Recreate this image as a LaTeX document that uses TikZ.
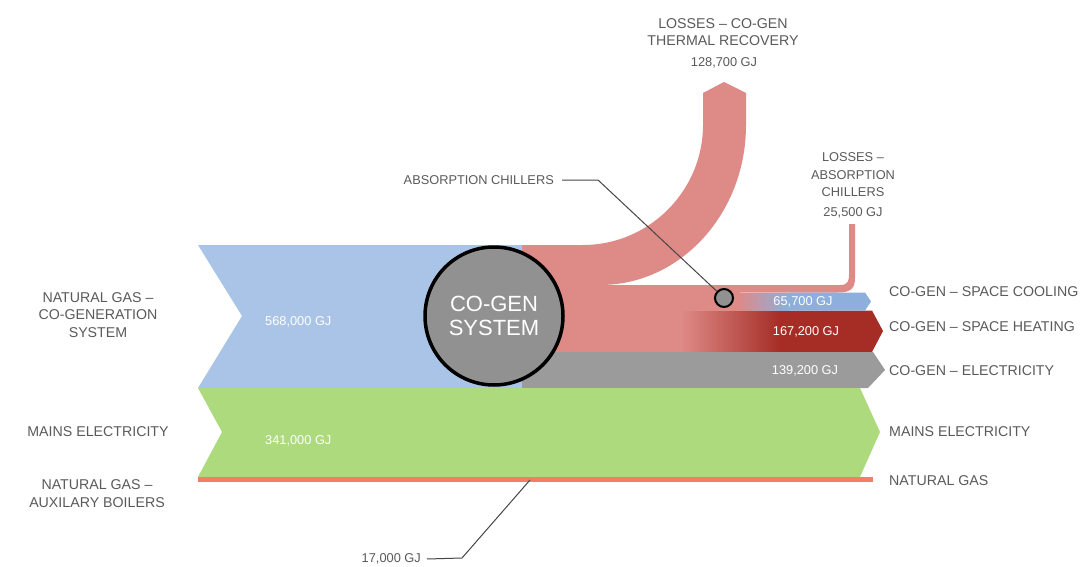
\documentclass[tikz,border=0pt]{standalone}
\usepackage{fontspec}
\setmainfont{Liberation Sans}
\definecolor{ngblue}{RGB}{170,196,232}
\definecolor{lossred}{RGB}{222,138,135}
\definecolor{heatred}{RGB}{165,45,38}
\definecolor{coolblue}{RGB}{140,175,220}
\definecolor{elecgray}{RGB}{155,155,155}
\definecolor{circgray}{RGB}{145,145,145}
\definecolor{mainsgreen}{RGB}{172,218,125}
\definecolor{gasorange}{RGB}{240,128,96}
\definecolor{txtgray}{RGB}{90,90,90}
\definecolor{leadgray}{RGB}{70,70,70}
\begin{document}
\begin{tikzpicture}[x=1pt,y=-1pt,
  lbl/.style={text=txtgray, font=\fontsize{14.2}{17.5}\selectfont, inner sep=0pt, align=center},
  smlbl/.style={text=txtgray, font=\fontsize{12.8}{17.5}\selectfont, inner sep=0pt, align=center},
  gjlbl/.style={text=txtgray, font=\fontsize{12.8}{15}\selectfont, inner sep=0pt},
  val/.style={text=white, font=\fontsize{12.8}{15}\selectfont, inner sep=0pt},
  lead/.style={draw=leadgray, line width=1pt}]
\useasboundingbox (0,0) rectangle (1081,567);
\fill[white] (0,0) rectangle (1081,567);

% natural gas into the co-generation system
\fill[ngblue] (198,245) -- (523,245) -- (523,388) -- (198,388) -- (242,316) -- cycle;

% thermal recovery losses and absorption chiller losses
\fill[lossred] (522,245) -- (583,245) .. controls (649,245) and (703,191) .. (703,125)
  -- (703,93) -- (724,82) -- (746,93) -- (746,125)
  .. controls (746,213) and (681,285) .. (600,285) -- (840,285)
  .. controls (848,285) and (849,281) .. (849,274) -- (849,224) -- (855,224) -- (855,278)
  .. controls (855,289) and (850,292.5) .. (838,292.5) -- (740,292.5) -- (740,352) -- (522,352) -- cycle;

% space heating: blend from the loss colour into the heating colour
\foreach \i in {0,...,49}{
  \pgfmathtruncatemacro\p{100-2*\i}
  \fill[lossred!\p!heatred] ({680+2*\i},310.5) rectangle ({682.6+2*\i},352);
}
\fill[heatred] (780,310.5) -- (872,310.5) -- (883,331) -- (872,352) -- (780,352) -- cycle;

% space cooling: blend from the loss colour into the cooling colour
\foreach \i in {0,...,25}{
  \pgfmathtruncatemacro\p{100-4*\i}
  \fill[lossred!\p!coolblue] ({738+2*\i},292.5) rectangle ({740.6+2*\i},310.5);
}
\fill[coolblue] (790,292.5) -- (865,292.5) -- (871,301.5) -- (865,310.5) -- (790,310.5) -- cycle;

% co-gen electricity
\fill[elecgray] (522,352) -- (873,352) -- (885,370) -- (868,388) -- (522,388) -- cycle;

% mains electricity
\fill[mainsgreen] (198,388) -- (860,388) -- (880,432) -- (860,477) -- (198,477) -- (222,432) -- cycle;

% natural gas for the auxiliary boilers
\fill[gasorange] (198,477) rectangle (873,482);

% system nodes
\node[circle, draw=black, line width=3.5pt, fill=circgray, minimum size=138pt, inner sep=0pt,
  text=white, align=center, font=\fontsize{22}{24.5}\selectfont] (cogen) at (494,316) {CO-GEN\\SYSTEM};
\node[circle, draw=black, line width=2pt, fill=circgray, minimum size=18pt, inner sep=0pt] (absch) at (724,298) {};

% flow values
\node[val, anchor=west] (v568) at (265,322) {568,000 GJ};
\node[val, anchor=west] (v341) at (265,441) {341,000 GJ};
\node[val] (v657) at (803,301.5) {65,700 GJ};
\node[val] (v1672) at (806,332) {167,200 GJ};
\node[val] (v1392) at (805,371) {139,200 GJ};

% source labels
\node[lbl] (srcng) at (98,315) {NATURAL GAS –\\CO-GENERATION\\SYSTEM};
\node[lbl] (srcmains) at (98,432) {MAINS ELECTRICITY};
\node[lbl] (srcaux) at (97,493.5) {NATURAL GAS –\\AUXILARY BOILERS};

% end-use labels
\node[lbl, anchor=west] (usecool) at (889,292) {CO-GEN – SPACE COOLING};
\node[lbl, anchor=west] (useheat) at (889,326.5) {CO-GEN – SPACE HEATING};
\node[lbl, anchor=west] (useelec) at (889,370.5) {CO-GEN – ELECTRICITY};
\node[lbl, anchor=west] (usemains) at (889,432) {MAINS ELECTRICITY};
\node[lbl, anchor=west] (usegas) at (889,481) {NATURAL GAS};

% loss labels
\node[lbl] (lossthermal) at (723,32) {LOSSES – CO-GEN\\THERMAL RECOVERY};
\node[gjlbl] (lossthermalgj) at (724,62.5) {128,700 GJ};
\node[smlbl] (losschill) at (853,175) {LOSSES –\\ABSORPTION\\CHILLERS};
\node[gjlbl] (losschillgj) at (853,212.5) {25,500 GJ};

% callouts
\node[smlbl, anchor=east] (abslbl) at (554,180) {ABSORPTION CHILLERS};
\coordinate (absbend) at (598,180);
\draw[lead] ([xshift=8pt]abslbl.east) -- (absbend) -- (absch);

\node[gjlbl, anchor=east] (gaslbl) at (421,559) {17,000 GJ};
\coordinate (gasbend) at (462,558);
\coordinate (gastouch) at (530,480);
\draw[lead] ([xshift=6pt]gaslbl.east) -- (gasbend) -- (gastouch);
\end{tikzpicture}
\end{document}
